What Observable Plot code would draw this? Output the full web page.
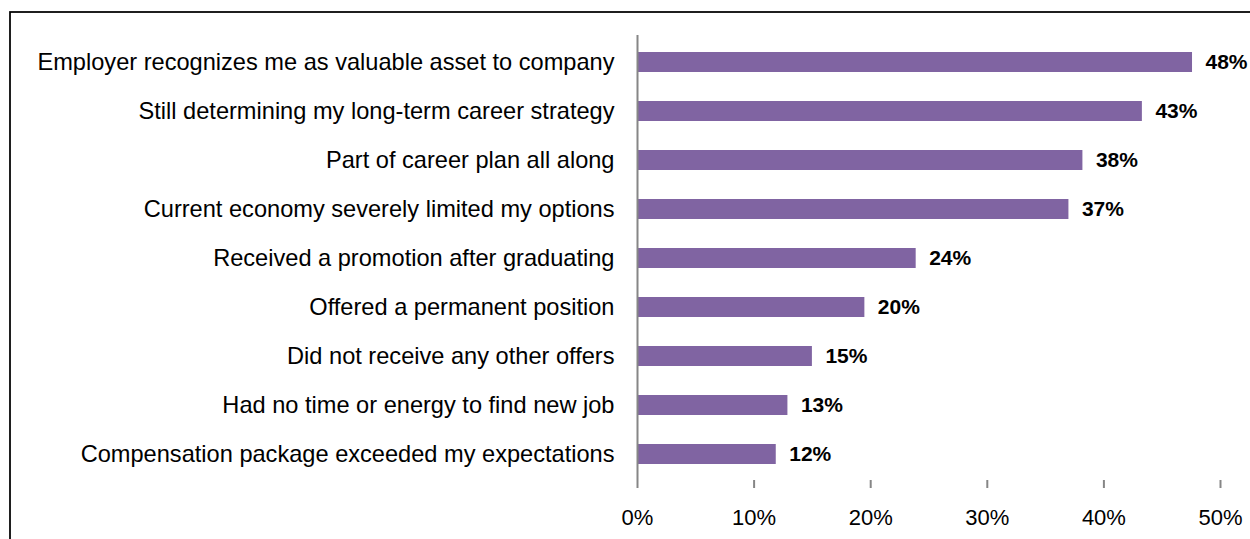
<!DOCTYPE html>
<html>
<head>
<meta charset="utf-8">
<script src="https://cdn.jsdelivr.net/npm/d3@7"></script>
<script src="https://cdn.jsdelivr.net/npm/@observablehq/plot@0.6"></script>
<style>
  html, body { margin: 0; padding: 0; background: #fff; }
  #chart { position: relative; width: 1250px; height: 539px; overflow: hidden; }
</style>
</head>
<body>
<div id="chart"></div>
<script>
const categories = [
  "Employer recognizes me as valuable asset to company",
  "Still determining my long-term career strategy",
  "Part of career plan all along",
  "Current economy severely limited my options",
  "Received a promotion after graduating",
  "Offered a permanent position",
  "Did not receive any other offers",
  "Had no time or energy to find new job",
  "Compensation package exceeded my expectations"
];
const values = [47.6, 43.3, 38.2, 37.0, 23.9, 19.5, 15.0, 12.9, 11.9];
const valueLabels = ["48%", "43%", "38%", "37%", "24%", "20%", "15%", "13%", "12%"];
const xTicks = [0, 10, 20, 30, 40, 50];

const data = categories.map((c, i) => ({category: c, value: values[i], label: valueLabels[i]}));

const plot = Plot.plot({
  width: 1250,
  height: 539,
  marginLeft: 637,
  marginRight: 30,
  marginTop: 35,
  marginBottom: 59,
  style: {fontFamily: "'Liberation Sans', Arial, sans-serif", background: "#fff"},
  x: {domain: [0, 50], ticks: xTicks, tickFormat: d => d + "%"},
  y: {domain: categories, paddingInner: 0.6, paddingOuter: 0.3},
  marks: [
    Plot.barX(data, {x: "value", y: "category", fill: "#8064A2"}),
    Plot.text(data, {x: "value", y: "category", text: "label", textAnchor: "start", dx: 13,
      fontWeight: "bold", fontSize: 21, fill: "#000"}),
    Plot.axisY({tickSize: 0, tickPadding: 23, fontSize: 23.6, label: null, color: "#000"}),
    Plot.axisX({ticks: xTicks, tickFormat: d => d + "%", tickSize: 8, tickPadding: 21,
      fontSize: 22, label: null, stroke: "#868686", color: "#000"}),
    Plot.ruleX([0], {stroke: "#868686", strokeWidth: 2}),
    Plot.ruleY([0], {x1: 0, x2: 50, stroke: "#868686", strokeWidth: 2})
  ]
});
document.getElementById("chart").appendChild(plot);

const svg = d3.select(plot);
svg.selectAll("[aria-label='x-axis tick'] path").attr("stroke", "#868686").attr("stroke-width", 2);
svg.append("rect")
  .attr("x", 10).attr("y", 12)
  .attr("width", 1400).attr("height", 700)
  .attr("fill", "none").attr("stroke", "#000").attr("stroke-width", 1.75);
</script>
</body>
</html>
